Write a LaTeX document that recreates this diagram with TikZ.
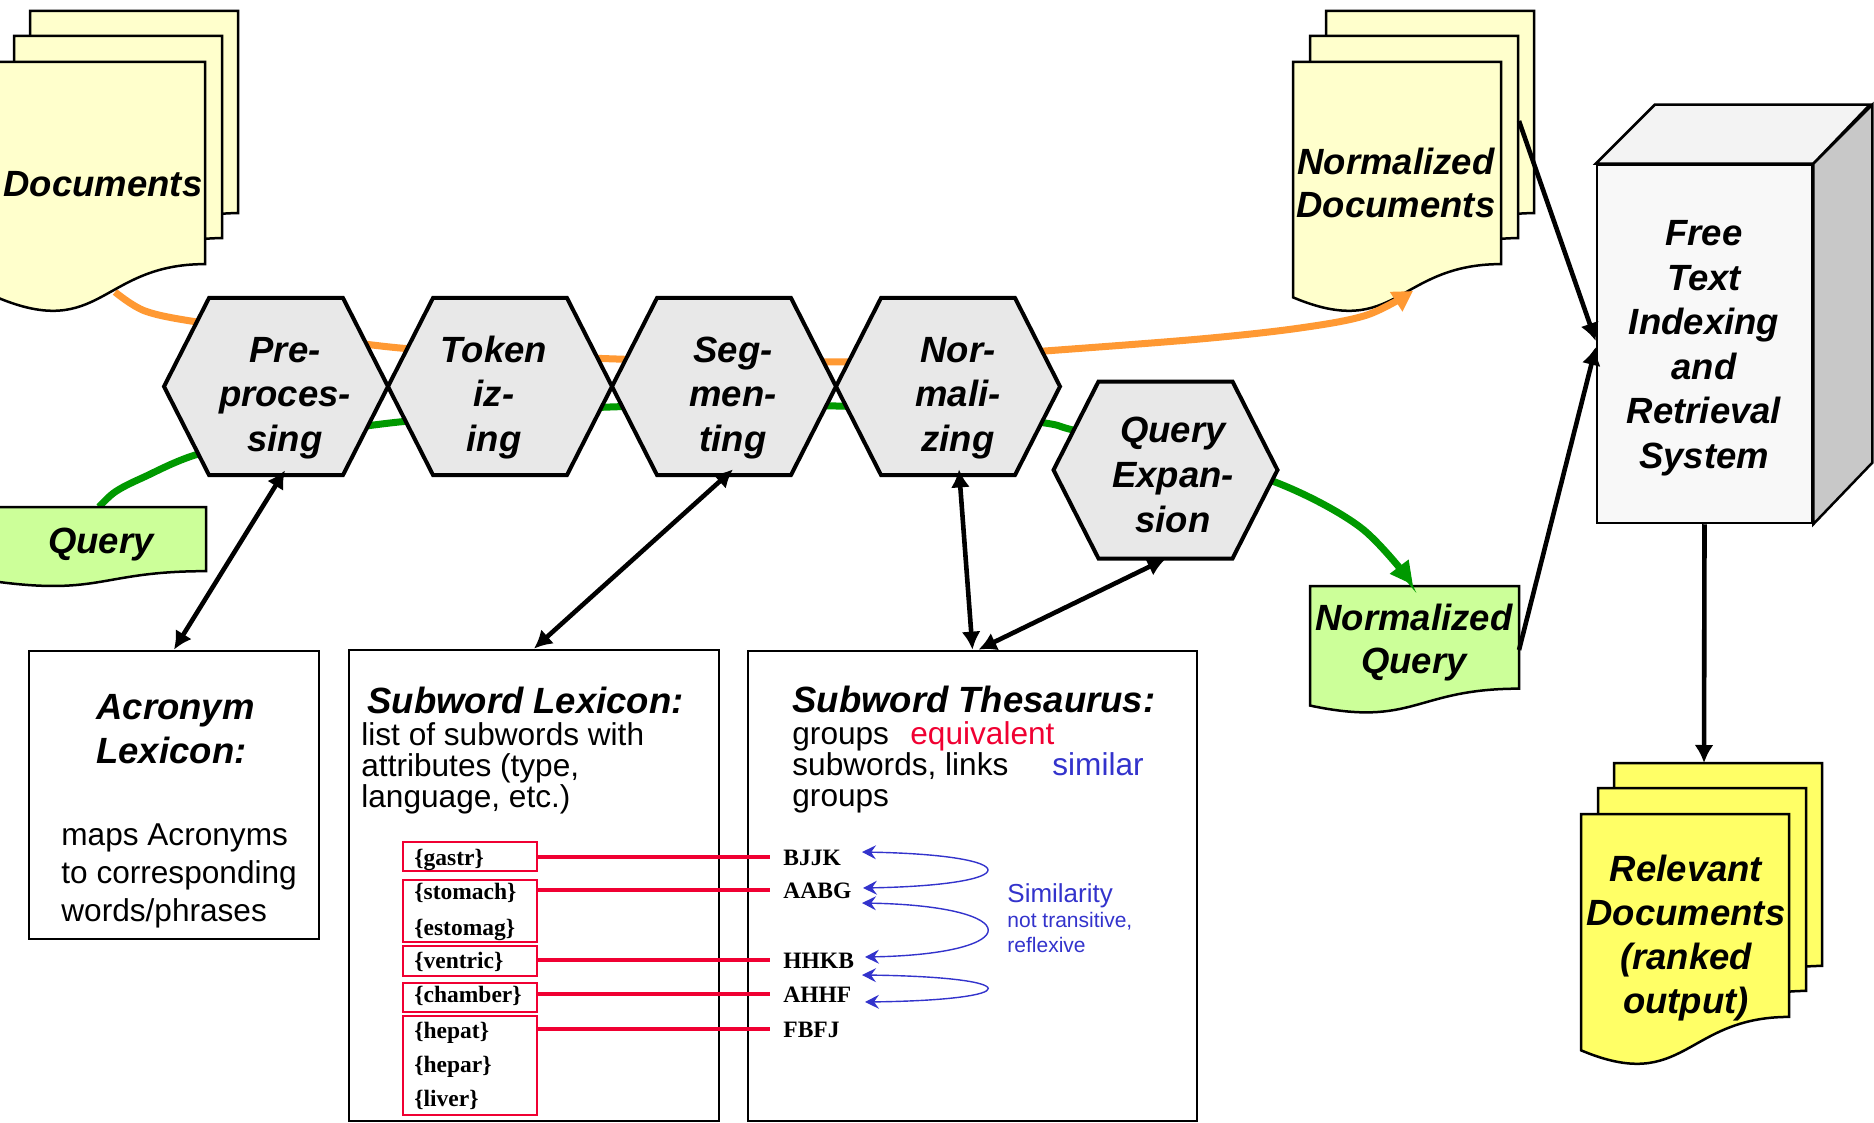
\documentclass[tikz,border=0pt]{standalone}
\usepackage{fontspec}
\setmainfont{Liberation Sans}
\newfontfamily\serfont{Liberation Serif}
\usetikzlibrary{arrows.meta,calc}
\definecolor{docy}{HTML}{FFFFCC}
\definecolor{qgreen}{HTML}{CCFF99}
\definecolor{rely}{HTML}{FFFF66}
\definecolor{hexg}{HTML}{E8E8E8}
\definecolor{orng}{HTML}{FF9933}
\definecolor{grn}{HTML}{009900}
\definecolor{redc}{RGB}{240,0,50}
\definecolor{bluec}{HTML}{3333CC}
\definecolor{boxfront}{HTML}{F8F8F8}
\definecolor{boxtop}{HTML}{F3F3F3}
\definecolor{boxside}{HTML}{C8C8C8}
\tikzset{
  pg/.style={draw=black, line width=1.25pt, line join=miter},
  hexsh/.style={draw=black, fill=hexg, line width=2pt, line join=miter},
  hd/.style={font=\bfseries\itshape\fontsize{18.25}{22}\selectfont, inner sep=0pt},
  bd/.style={font=\fontsize{15.8}{19}\selectfont, inner sep=0pt},
  sr/.style={font=\serfont\bfseries\fontsize{11.75}{14}\selectfont, inner sep=0pt},
  lexbox/.style={draw=black, line width=1.35pt, inner sep=0pt},
  redbox/.style={draw=redc, line width=1.2pt, inner sep=0pt},
  redln/.style={draw=redc, line width=2pt},
  blk/.style={line width=2.3pt, {Latex[length=9pt,width=9.5pt]}-{Latex[length=9pt,width=9.5pt]}},
  blkone/.style={line width=2.3pt, -{Latex[length=9pt,width=9.5pt]}},
  bluearr/.style={draw=bluec, line width=0.7pt, {Stealth[length=7pt,width=7pt,inset=2.5pt]}-{Stealth[length=7pt,width=7pt,inset=2.5pt]}},
  ghost/.style={draw=none, inner sep=0pt}
}
\newcommand\docpage[5]{\filldraw[pg, fill=#5] (#1,#2) -- ({#1+#3},#2) -- ({#1+#3},{#2+0.802*#4}) .. controls ({#1+#3/2},{#2+0.802*#4}) and ({#1+#3/2},{#2+1.1075*#4}) .. (#1,{#2+0.934*#4}) -- cycle;}
\newcommand\hexa[3]{%
  \draw[hexsh] ({#2-112},#3) -- ({#2-67},{#3-88.5}) -- ({#2+67},{#3-88.5}) -- ({#2+112},#3) -- ({#2+67},{#3+88.5}) -- ({#2-67},{#3+88.5}) -- cycle;
  \node[ghost, minimum width=112pt, minimum height=88.5pt] (#1) at (#2,#3) {};}
\newcommand\txtlines[6]{\foreach \myitem [count=\i] in {#6} {\node[anchor=base, #1] (#2\i) at ({#3},{#4+#5*(\i-1)}) {\myitem};}}
\begin{document}
\begin{tikzpicture}[x=0.5pt,y=-0.5pt]
\useasboundingbox (0,0) rectangle (1874,1123);
\fill[white] (0,0) rectangle (1874,1123);

% normalized documents stack
\docpage{1326}{11}{208}{252}{docy}
\docpage{1310}{36}{208}{252}{docy}
\docpage{1293}{62}{208}{252}{docy}
\coordinate (ndocR) at (1519,121);
% normalized query
\docpage{1310}{586}{209}{128}{qgreen}
\coordinate (nqR) at (1519,650);
\coordinate (nqtop) at (1413,585);
% relevant documents
\docpage{1614}{763}{208}{253}{rely}
\docpage{1598}{788}{208}{253}{rely}
\docpage{1581}{814}{208}{253}{rely}
\coordinate (reltop) at (1704,763);

% free text indexing box
\node[draw=black, fill=boxfront, line width=1.25pt, minimum width=107.5pt, minimum height=179pt, inner sep=0pt] (irs) at (1704.5,344) {};
\filldraw[pg, fill=boxtop] (irs.north west) -- ++(59,-59) -- ++(215,0) -- (irs.north east) -- cycle;
\filldraw[pg, fill=boxside] (irs.north east) -- ++(59,-59) -- ++(0,358) -- (irs.south east) -- cycle;

% flows
\coordinate (docbot) at (115,292);
\coordinate (qtop) at (99,507);
\draw[orng, line width=3.5pt, -{Triangle[length=10pt,width=11pt]}] plot[smooth, tension=0.55] coordinates {(docbot) (145,311) (197,322) (290,334) (400,348) (520,355) (650,360) (800,362) (920,360) (1045,351) (1200,339) (1300,328) (1367,315) (1413,291)};
\draw[grn, line width=3.5pt, -{Triangle[length=11.5pt,width=11pt]}] plot[smooth, tension=0.55] coordinates {(qtop) (115,492) (142,478) (202,453) (300,436) (390,423) (500,413) (610,407) (720,405) (836,406) (950,411) (1045,423) (1073,430) (1165,452) (1275,482) (1360,527) (nqtop)};

% documents stack
\docpage{30}{11}{208}{252}{docy}
\docpage{14}{36}{208}{252}{docy}
\docpage{-3}{62}{208}{252}{docy}
% query
\docpage{-3}{507}{209}{80}{qgreen}

% hexagons
\hexa{pre}{276}{386.5}
\hexa{tok}{500}{386.5}
\hexa{seg}{724}{386.5}
\hexa{nor}{948}{386.5}
\hexa{qe}{1165.5}{470}
\txtlines{hd}{pret}{285}{362}{44.5}{Pre-,proces-,sing}
\txtlines{hd}{tokt}{494}{362}{44.5}{Token,iz-,ing}
\txtlines{hd}{segt}{733}{362}{44.5}{Seg-,men-,ting}
\txtlines{hd}{nort}{958}{362}{44.5}{Nor-,mali-,zing}
\txtlines{hd}{qet}{1173}{442}{45}{Query,Expan-,sion}

% document texts
\node[hd, anchor=base] (doct) at (103,197) {Documents};
\node[hd, anchor=base] (qt) at (101,553) {Query};
\txtlines{hd}{ndt}{1396}{175}{43}{Normalized,Documents}
\txtlines{hd}{nqt}{1414}{630}{43}{Normalized,Query}
\txtlines{hd}{irst}{1704}{246}{44.4}{Free,Text,Indexing,and,Retrieval,System}
\txtlines{hd}{relt}{1686}{881}{44.3}{Relevant,Documents,{(ranked},{output)}}

% lexicon boxes
\node[lexbox, minimum width=145pt, minimum height=144pt] (acr) at (174,795) {};
\node[lexbox, minimum width=185pt, minimum height=235.5pt] (slx) at (534,885.5) {};
\node[lexbox, minimum width=224.5pt, minimum height=235pt] (ths) at (972.5,886) {};

\txtlines{hd, anchor=base west}{acrh}{96}{719}{44}{Acronym,Lexicon:}
\txtlines{bd, anchor=base west}{acrb}{61}{845}{38}{maps Acronyms,to corresponding,words/phrases}
\node[hd, anchor=base west] (slxh) at (367,713) {Subword Lexicon:};
\txtlines{bd, anchor=base west}{slxb}{361}{745}{31}{list of subwords with,{attributes (type,},{language, etc.)}}
\node[hd, anchor=base west] (thsh) at (792,712) {Subword Thesaurus:};
\node[bd, anchor=base west] (thb1) at (792,744) {groups};
\node[bd, anchor=base west, text=redc] (thb2) at (910,744) {equivalent};
\node[bd, anchor=base west] (thb3) at (792,775) {subwords, links};
\node[bd, anchor=base west, text=bluec] (thb4) at (1052,775) {similar};
\node[bd, anchor=base west] (thb5) at (792,806) {groups};

% red boxes
\node[redbox, minimum width=67pt, minimum height=14.5pt] (rb1) at (470,856.5) {};
\node[redbox, minimum width=67pt, minimum height=31pt] (rb2) at (470,911) {};
\node[redbox, minimum width=67pt, minimum height=15pt] (rb3) at (470,961) {};
\node[redbox, minimum width=67pt, minimum height=14.5pt] (rb4) at (470,997.5) {};
\node[redbox, minimum width=67pt, minimum height=49.5pt] (rb5) at (470,1065.5) {};
\foreach \w/\yy [count=\i] in {gastr/865,stomach/899,estomag/935,ventric/968,chamber/1002,hepat/1038,hepar/1072,liver/1106}
  {\node[sr, anchor=base west] (rt\i) at (414,\yy) {\{\w\}};}
\foreach \w/\yy [count=\i] in {BJJK/865,AABG/898,HHKB/968,AHHF/1002,FBFJ/1037}
  {\node[sr, anchor=base west, inner xsep=6.5pt] (tb\i) at (770,\yy) {\w};}
\foreach \i in {1,...,5} {\draw[redln] (tb\i.west -| rb\i.east) -- (tb\i.west);}

% similarity loops
\coordinate (s1a) at (862,852); \coordinate (s1b) at (863,888);
\coordinate (s2a) at (862,903); \coordinate (s2b) at (865,957);
\coordinate (s3a) at (862,975); \coordinate (s3b) at (865,1002);
\draw[bluearr] (s1a) .. controls (1027,855) and (1027,885) .. (s1b);
\draw[bluearr] (s2a) .. controls (1027,906) and (1027,954) .. (s2b);
\draw[bluearr] (s3a) .. controls (1027,977) and (1027,1000) .. (s3b);
\node[font=\fontsize{13}{15}\selectfont, text=bluec, inner sep=0pt, anchor=base west] (simt) at (1007,902) {Similarity};
\node[font=\fontsize{10.5}{12}\selectfont, text=bluec, inner sep=0pt, anchor=base west] (simt2) at (1007,927) {not transitive,};
\node[font=\fontsize{10.5}{12}\selectfont, text=bluec, inner sep=0pt, anchor=base west] (simt3) at (1007,952) {reflexive};

% black connectors
\draw[blk] ($(pre.south)+(9,-5)$) -- (acr.north);
\draw[blk] ($(seg.south)+(9,-6)$) -- (slx.north);
\draw[blk] ($(nor.south)+(11,-6)$) -- (ths.north);
\draw[blk] ($(ths.north)+(6,0)$) -- (qe.south);
\draw[blkone] (ndocR) -- ($(irs.west)+(0,-3)$);
\draw[blkone] (nqR) -- ($(irs.west)+(0,3)$);
\draw[blkone] (irs.south) -- (reltop);
\end{tikzpicture}
\end{document}
